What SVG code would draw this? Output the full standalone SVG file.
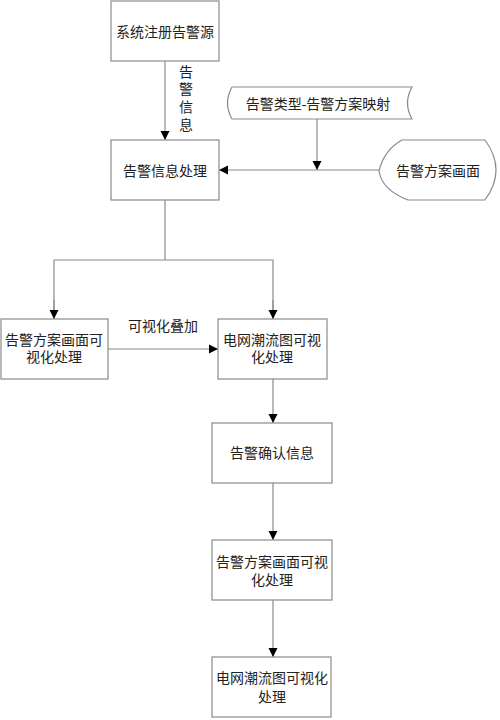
<svg xmlns="http://www.w3.org/2000/svg" width="500" height="720" viewBox="0 0 500 720">
<defs>
<marker id="ah" markerWidth="10" markerHeight="10" refX="9" refY="5" orient="auto" markerUnits="userSpaceOnUse">
<path d="M0,0.5 L9,5 L0,9.5 Z" fill="#000"/>
</marker>
<style>
.box{fill:#fff;stroke:#8a8a8a;stroke-width:1.2}
.ln{fill:none;stroke:#8a8a8a;stroke-width:1.2}
.t{font-family:"Liberation Serif","Noto Sans CJK SC",serif;font-size:14px;fill:#222;text-anchor:middle;dominant-baseline:central}
</style>
</defs>
<rect width="500" height="720" fill="#fff"/>
<g id="connectors">
<line class="ln" x1="165" y1="61" x2="165" y2="140" marker-end="url(#ah)"/>
<line class="ln" x1="317" y1="119" x2="317" y2="170" marker-end="url(#ah)"/>
<line class="ln" x1="379" y1="170" x2="219" y2="170" marker-end="url(#ah)"/>
<polyline class="ln" points="165,200 165,260"/>
<polyline class="ln" points="54,319 54,260 273,260 273,319"/>
<line class="ln" x1="54" y1="300" x2="54" y2="319" marker-end="url(#ah)"/>
<line class="ln" x1="273" y1="300" x2="273" y2="319" marker-end="url(#ah)"/>
<line class="ln" x1="108" y1="349" x2="218" y2="349" marker-end="url(#ah)"/>
<line class="ln" x1="273" y1="379" x2="273" y2="423" marker-end="url(#ah)"/>
<line class="ln" x1="273" y1="483" x2="273" y2="540" marker-end="url(#ah)"/>
<line class="ln" x1="273" y1="600" x2="273" y2="657" marker-end="url(#ah)"/>
<text class="t" x="186" y="72">告</text>
<text class="t" x="186" y="89">警</text>
<text class="t" x="186" y="107">信</text>
<text class="t" x="186" y="125">息</text>
<text class="t" x="163" y="326">可视化叠加</text>
</g>
<g id="n1"><rect class="box" x="111" y="1" width="108" height="60"/><text class="t" x="165" y="32">系统注册告警源</text></g>
<g id="n2"><rect class="box" x="111" y="140" width="108" height="60"/><text class="t" x="165" y="171">告警信息处理</text></g>
<g id="n3"><path class="box" d="M232,87 L412,87 Q403,103 412,119 L232,119 Q223,103 232,87 Z"/><text class="t" x="318" y="104">告警类型-告警方案映射</text></g>
<g id="n4"><path class="box" d="M402,140 L485,140 Q507,170 485,200 L408,200 Q382,190 379,171 Q384,150 402,140 Z"/><text class="t" x="438" y="171">告警方案画面</text></g>
<g id="n5"><rect class="box" x="1" y="319" width="107" height="60"/><text class="t" x="54" y="340">告警方案画面可</text><text class="t" x="54" y="357">视化处理</text></g>
<g id="n6"><rect class="box" x="218" y="319" width="109" height="60"/><text class="t" x="272" y="340">电网潮流图可视</text><text class="t" x="272" y="357">化处理</text></g>
<g id="n7"><rect class="box" x="212" y="423" width="120" height="60"/><text class="t" x="272" y="453">告警确认信息</text></g>
<g id="n8"><rect class="box" x="212" y="540" width="120" height="60"/><text class="t" x="272" y="562">告警方案画面可视</text><text class="t" x="272" y="580">化处理</text></g>
<g id="n9"><rect class="box" x="212" y="657" width="119" height="60"/><text class="t" x="272" y="678">电网潮流图可视化</text><text class="t" x="272" y="697">处理</text></g>
</svg>
